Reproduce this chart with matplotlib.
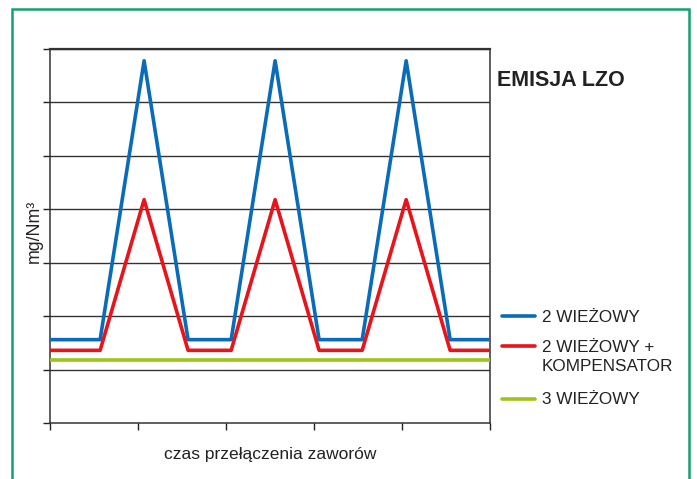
import matplotlib
matplotlib.use("Agg")
import matplotlib.pyplot as plt
from matplotlib.patches import Rectangle
from matplotlib.lines import Line2D

plt.rcParams['font.family'] = ['Liberation Sans', 'DejaVu Sans']

# czas (jednostki osi) i emisja (jednostki siatki)
czas = [0, 0.57, 1.07, 1.57, 2.06, 2.56, 3.06, 3.55, 4.05, 4.55, 5.0]
wiezowy2 = [1.56, 1.56, 6.78, 1.56, 1.56, 6.78, 1.56, 1.56, 6.78, 1.56, 1.56]
wiezowy2_komp = [1.36, 1.36, 4.18, 1.36, 1.36, 4.18, 1.36, 1.36, 4.18, 1.36, 1.36]
czas_3 = [0, 5.0]
wiezowy3 = [1.17, 1.17]

etykiety = ["2 WIEŻOWY", "2 WIEŻOWY +\nKOMPENSATOR", "3 WIEŻOWY"]
kolory = ["#0a6cb8", "#e8141c", "#9dc41a"]

W, H = 697, 479


def fx(px):
    return px / W


def fy(py):
    return 1 - py / H


def main():
    fig = plt.figure(figsize=(W / 100, H / 100), dpi=100)
    fig.patch.set_facecolor("white")

    # zielona ramka
    fig.add_artist(Rectangle((fx(12), -0.05), fx(689 - 12), 1.05 - 9 / H,
                             transform=fig.transFigure, fill=False,
                             edgecolor="#14a072", linewidth=1.8))

    ax = fig.add_axes([fx(50), fy(423), fx(489.7 - 50), (423 - 49) / H])
    ax.set_xlim(0, 5)
    ax.set_ylim(0, 7)
    ax.set_yticks(range(8))
    ax.set_xticks(range(6))
    ax.set_yticklabels([])
    ax.set_xticklabels([])
    ax.tick_params(length=5, width=1, color="#222")
    for y in range(1, 8):
        ax.axhline(y, color="#333", lw=1, zorder=1)
    for s in ax.spines.values():
        s.set_color("#333")
        s.set_linewidth(1.1)
    ax.spines["top"].set_linewidth(1.6)

    serie = [(czas, wiezowy2), (czas, wiezowy2_komp), (czas_3, wiezowy3)]
    for (xs, ys), kol in zip(serie, kolory):
        ax.plot(xs, ys, color=kol, lw=2.6, zorder=3)

    ax.set_xlabel("czas przełączenia zaworów", fontsize=12.5, color="#222", labelpad=9)
    ax.set_ylabel("mg/Nm³", fontsize=12.8, color="#222")
    ax.yaxis.set_label_coords(-0.017, 0.513)

    fig.text(fx(497), fy(80), "EMISJA LZO", fontsize=15.5, fontweight="bold",
             color="#222", va="center", ha="left")

    # legenda: (y linii, y środka tekstu)
    pozycje = [(316, 317), (345.5, 357), (399, 399)]
    for (yl, yt), kol, txt in zip(pozycje, kolory, etykiety):
        fig.add_artist(Line2D([fx(502), fx(535)], [fy(yl), fy(yl)], color=kol,
                              lw=2.6, solid_capstyle="round",
                              transform=fig.transFigure))
        fig.text(fx(542), fy(yt), txt, fontsize=12.3, color="#222",
                 va="center", ha="left", linespacing=1.33)

    fig.savefig("out.png", dpi=100, facecolor="white")


if __name__ == '__main__':
    main()
